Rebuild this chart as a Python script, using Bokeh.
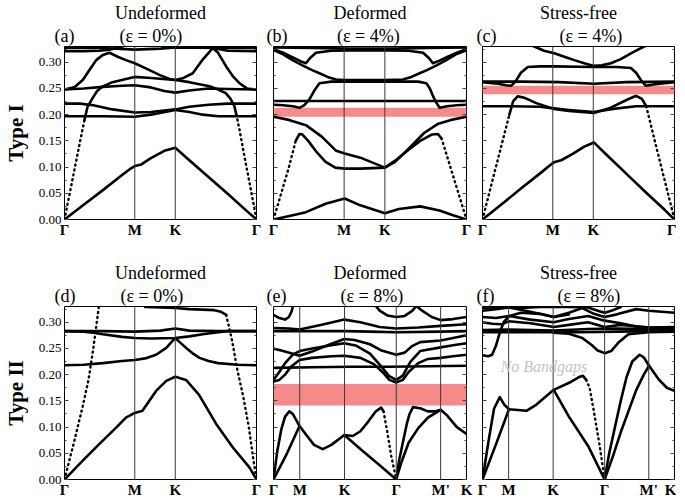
from bokeh.plotting import figure
from bokeh.models import (Range1d, LinearAxis, SingleIntervalTicker, FixedTicker,
                          CustomJSTickFormatter, NumeralTickFormatter, Span, Label, Title)
from bokeh.layouts import column, row
from bokeh.embed import file_html
from bokeh.resources import INLINE

FONT = "Liberation Serif"
Y_MAX = 0.33

# ---------------- axis data ----------------
ticks_hex = [0.0, 0.366, 0.577, 1.0]
labels_hex = ["Γ", "M", "K", "Γ"]
ticks_long = [0.0, 0.136, 0.368, 0.636, 0.866, 1.0]
labels_long = ["Γ", "M", "K", "Γ", "M'", "K"]

# ---------------- panel (a): Type I, undeformed ----------------
a1_x = [0, 0.1, 0.2, 0.3, 0.34, 0.366, 0.4, 0.45, 0.52, 0.577, 0.65, 0.75, 0.85, 0.95, 1.0]
a1_y = [0, 0.028, 0.056, 0.085, 0.096, 0.102, 0.105, 0.117, 0.131, 0.137, 0.113, 0.081, 0.049, 0.016, 0]
a2_x = [0.104, 0.12, 0.147, 0.17, 0.2, 0.25, 0.32, 0.366, 0.45, 0.577, 0.65, 0.755, 0.8, 0.84, 0.865, 0.885, 0.895]
a2_y = [0.19, 0.215, 0.232, 0.245, 0.254, 0.262, 0.268, 0.272, 0.27, 0.266, 0.262, 0.254, 0.248, 0.241, 0.23, 0.216, 0.2]
a2L_x = [0, 0.03, 0.06, 0.09, 0.104]
a2L_y = [0, 0.055, 0.11, 0.165, 0.19]
a2R_x = [0.895, 0.911, 0.94, 0.97, 1.0]
a2R_y = [0.2, 0.172, 0.115, 0.058, 0]
a3_x = [0, 0.08, 0.15, 0.25, 0.366, 0.45, 0.577, 0.65, 0.75, 0.85, 1.0]
a3_y = [0.221, 0.221, 0.218, 0.21, 0.204, 0.205, 0.21, 0.215, 0.219, 0.221, 0.221]
a4_x = [0, 0.2, 0.366, 0.45, 0.577, 0.65, 0.72, 0.8, 1.0]
a4_y = [0.197, 0.197, 0.196, 0.2, 0.209, 0.205, 0.2, 0.197, 0.197]
a5_x = [0, 0.1, 0.2, 0.3, 0.366, 0.45, 0.52, 0.577, 0.65, 0.75, 0.85, 1.0]
a5_y = [0.248, 0.25, 0.253, 0.255, 0.256, 0.252, 0.245, 0.242, 0.246, 0.25, 0.249, 0.248]
a6_x = [0, 0.05, 0.095, 0.13, 0.165, 0.2, 0.234, 0.28, 0.32, 0.366, 0.443, 0.5, 0.547, 0.577,
        0.62, 0.668, 0.72, 0.772, 0.8, 0.842, 0.88, 0.911, 0.95, 1.0]
a6_y = [0.248, 0.252, 0.266, 0.285, 0.304, 0.314, 0.318, 0.31, 0.304, 0.298, 0.285, 0.275, 0.268, 0.266,
        0.27, 0.279, 0.305, 0.327, 0.318, 0.292, 0.272, 0.26, 0.25, 0.248]
a7_x = [0, 0.2, 0.366, 0.5, 0.577, 0.8, 1.0]
a7_y = [0.327, 0.327, 0.324, 0.326, 0.328, 0.327, 0.327]
a8_x = [0, 0.1, 0.18, 0.234, 0.28, 0.31]
a8_y = [0.321, 0.321, 0.322, 0.324, 0.328, 0.331]
a9_x = [0.73, 0.772, 0.85, 1.0]
a9_y = [0.331, 0.327, 0.322, 0.321]

# ---------------- panel (b): Type I, deformed 4% ----------------
b1_x = [0, 0.1, 0.168, 0.27, 0.369, 0.45, 0.577, 0.65, 0.76, 0.86, 0.93, 1.0]
b1_y = [0, 0.008, 0.014, 0.03, 0.04, 0.027, 0.012, 0.02, 0.025, 0.017, 0.008, 0]
b2_x = [0.115, 0.134, 0.15, 0.18, 0.22, 0.27, 0.32, 0.369, 0.45, 0.577, 0.64, 0.7, 0.76, 0.82, 0.852, 0.87]
b2_y = [0.15, 0.163, 0.162, 0.15, 0.13, 0.11, 0.099, 0.097, 0.097, 0.099, 0.115, 0.133, 0.15, 0.162, 0.163, 0.155]
b2L_x = [0, 0.04, 0.08, 0.115]
b2L_y = [0, 0.05, 0.1, 0.15]
b2R_x = [0.87, 0.9, 0.95, 1.0]
b2R_y = [0.155, 0.12, 0.06, 0]
b3_x = [0, 0.08, 0.168, 0.25, 0.325, 0.369, 0.45, 0.577, 0.63, 0.7, 0.78, 0.85, 0.92, 1.0]
b3_y = [0.196, 0.19, 0.18, 0.158, 0.131, 0.126, 0.118, 0.099, 0.11, 0.135, 0.165, 0.182, 0.19, 0.196]
b4_x = [0, 0.05, 0.1, 0.134, 0.16, 0.186, 0.21, 0.238, 0.3, 0.369, 0.577, 0.75, 0.792, 0.81,
        0.827, 0.845, 0.861, 0.9, 0.95, 1.0]
b4_y = [0.219, 0.218, 0.216, 0.213, 0.218, 0.229, 0.245, 0.26, 0.263, 0.263, 0.263, 0.263, 0.26, 0.25,
        0.235, 0.222, 0.213, 0.216, 0.218, 0.219]
b5_x = [0, 0.25, 0.5, 0.75, 1.0]
b5_y = [0.226, 0.226, 0.226, 0.226, 0.226]
b6_x = [0, 0.05, 0.099, 0.15, 0.2, 0.238, 0.28, 0.324, 0.369, 0.577, 0.67, 0.715, 0.757, 0.795,
        0.845, 0.895, 0.945, 1.0]
b6_y = [0.323, 0.315, 0.304, 0.294, 0.285, 0.279, 0.272, 0.267, 0.266, 0.266, 0.267, 0.272, 0.279, 0.285,
        0.294, 0.304, 0.315, 0.323]
b7_x = [0, 0.05, 0.1, 0.14, 0.168, 0.19, 0.22, 0.3, 0.5, 0.7, 0.775, 0.805, 0.826, 0.86, 0.9, 0.95, 1.0]
b7_y = [0.325, 0.318, 0.309, 0.302, 0.298, 0.308, 0.318, 0.322, 0.323, 0.322, 0.318, 0.308, 0.298, 0.303,
        0.31, 0.318, 0.325]
b8_x = [0, 0.2, 0.4, 0.6, 0.8, 1.0]
b8_y = [0.328, 0.327, 0.326, 0.326, 0.327, 0.328]
gap_b = [0.196, 0.213]

# ---------------- panel (c): Type I, stress-free 4% ----------------
c1_x = [0, 0.1, 0.2, 0.3, 0.35, 0.372, 0.41, 0.47, 0.53, 0.58, 0.65, 0.75, 0.85, 0.95, 1.0]
c1_y = [0, 0.029, 0.059, 0.088, 0.103, 0.109, 0.113, 0.125, 0.139, 0.147, 0.122, 0.087, 0.052, 0.018, 0]
c2_x = [0.14, 0.16, 0.183, 0.22, 0.28, 0.372, 0.45, 0.58, 0.66, 0.75, 0.8, 0.83, 0.853]
c2_y = [0.2, 0.226, 0.235, 0.232, 0.222, 0.211, 0.207, 0.203, 0.212, 0.228, 0.236, 0.23, 0.216]
c2L_x = [0, 0.05, 0.1, 0.14]
c2L_y = [0, 0.072, 0.143, 0.2]
c2R_x = [0.853, 0.9, 0.95, 1.0]
c2R_y = [0.216, 0.146, 0.073, 0]
c3_x = [0, 0.15, 0.3, 0.372, 0.45, 0.58, 0.68, 0.8, 1.0]
c3_y = [0.216, 0.216, 0.215, 0.212, 0.209, 0.205, 0.211, 0.216, 0.216]
c4_x = [0, 0.2, 0.4, 0.58, 0.75, 1.0]
c4_y = [0.263, 0.263, 0.262, 0.259, 0.262, 0.263]
c5_x = [0, 0.08, 0.125, 0.149, 0.17, 0.2, 0.236, 0.3, 0.372, 0.58, 0.7, 0.773, 0.8, 0.825, 0.851,
        0.9, 0.95, 1.0]
c5_y = [0.262, 0.259, 0.256, 0.255, 0.262, 0.28, 0.291, 0.292, 0.292, 0.291, 0.291, 0.289, 0.28, 0.266,
        0.255, 0.258, 0.26, 0.262]
c6_x = [0.255, 0.27, 0.32, 0.374, 0.43, 0.478, 0.53, 0.58, 0.62, 0.669, 0.72, 0.773, 0.81, 0.842, 0.855]
c6_y = [0.332, 0.33, 0.322, 0.317, 0.31, 0.304, 0.298, 0.293, 0.294, 0.298, 0.306, 0.317, 0.324, 0.33, 0.332]
gap_c = [0.239, 0.255]

# ---------------- panel (d): Type II, undeformed ----------------
d1_x = [0, 0.095, 0.182, 0.269, 0.32, 0.366, 0.406, 0.477, 0.53, 0.577, 0.633, 0.7, 0.79, 0.877, 0.963, 1.0]
d1_y = [0, 0.036, 0.068, 0.099, 0.118, 0.127, 0.131, 0.169, 0.188, 0.196, 0.19, 0.162, 0.106, 0.061, 0.023, 0]
d2_x = [0, 0.05, 0.095, 0.125, 0.15, 0.177, 0.18]
d2_y = [0, 0.072, 0.14, 0.19, 0.25, 0.325, 0.332]
d3_x = [0.42, 0.5, 0.577, 0.65, 0.72, 0.78, 0.815, 0.842]
d3_y = [0.329, 0.328, 0.327, 0.325, 0.324, 0.323, 0.32, 0.314]
d3R_x = [0.842, 0.87, 0.9, 0.932, 0.96, 0.985, 1.0]
d3R_y = [0.314, 0.27, 0.21, 0.156, 0.1, 0.035, 0]
d4_x = [0, 0.2, 0.366, 0.5, 0.577, 0.65, 0.8, 1.0]
d4_y = [0.283, 0.283, 0.282, 0.284, 0.288, 0.284, 0.283, 0.283]
d5_x = [0, 0.1, 0.15, 0.2, 0.3, 0.366, 0.45, 0.577, 0.65, 0.72, 0.8, 0.85, 1.0]
d5_y = [0.283, 0.282, 0.28, 0.277, 0.272, 0.27, 0.269, 0.27, 0.273, 0.277, 0.281, 0.283, 0.283]
d6_x = [0, 0.1, 0.2, 0.3, 0.366, 0.42, 0.477, 0.53, 0.577, 0.6, 0.634, 0.67, 0.703, 0.75, 0.8, 0.9, 1.0]
d6_y = [0.218, 0.219, 0.222, 0.226, 0.228, 0.231, 0.238, 0.251, 0.27, 0.262, 0.251, 0.24, 0.232, 0.226,
        0.222, 0.219, 0.218]

# ---------------- panel (e): Type II, deformed 8% ----------------
e1_x = [0, 0.07, 0.135, 0.17, 0.21, 0.255, 0.3, 0.367, 0.411, 0.45, 0.49, 0.53, 0.558, 0.57]
e1_y = [0, 0.05, 0.102, 0.085, 0.066, 0.058, 0.066, 0.085, 0.083, 0.092, 0.11, 0.13, 0.137, 0.13]
e1D_x = [0.57, 0.59, 0.61, 0.636]
e1D_y = [0.13, 0.09, 0.045, 0]
e2_x = [0, 0.02, 0.04, 0.06, 0.082, 0.1, 0.12, 0.135]
e2_y = [0, 0.055, 0.095, 0.12, 0.13, 0.125, 0.112, 0.102]
e3_x = [0.367, 0.45, 0.55, 0.636]
e3_y = [0.085, 0.058, 0.027, 0]
e4_x = [0.636, 0.65, 0.67, 0.69, 0.705, 0.723, 0.76, 0.8, 0.84, 0.866, 0.9, 0.95, 1.0]
e4_y = [0, 0.035, 0.07, 0.105, 0.125, 0.138, 0.136, 0.13, 0.13, 0.133, 0.122, 0.1, 0.087]
e5_x = [0.636, 0.66, 0.7, 0.75, 0.8, 0.866]
e5_y = [0, 0.03, 0.07, 0.098, 0.118, 0.133]
e6_x = [0, 0.2, 0.4, 0.6, 0.8, 1.0]
e6_y = [0.213, 0.214, 0.215, 0.215, 0.216, 0.217]
e7_x = [0, 0.03, 0.06, 0.09, 0.135, 0.2, 0.3, 0.367, 0.45, 0.52, 0.57, 0.6, 0.636, 0.67, 0.7, 0.75,
        0.8, 0.866, 0.93, 1.0]
e7_y = [0.187, 0.19, 0.2, 0.215, 0.228, 0.232, 0.235, 0.236, 0.232, 0.22, 0.203, 0.19, 0.185, 0.19, 0.205,
        0.222, 0.23, 0.232, 0.235, 0.238]
e8_x = [0, 0.03, 0.06, 0.1, 0.135, 0.2, 0.3, 0.367, 0.43, 0.5, 0.56, 0.6, 0.636, 0.67, 0.71, 0.76,
        0.866, 0.93, 1.0]
e8_y = [0.19, 0.205, 0.222, 0.238, 0.245, 0.25, 0.256, 0.26, 0.255, 0.24, 0.215, 0.197, 0.19, 0.198, 0.225,
        0.245, 0.252, 0.256, 0.26]
e9_x = [0, 0.05, 0.1, 0.135, 0.2, 0.28, 0.367, 0.42, 0.5, 0.56, 0.636, 0.68, 0.72, 0.76, 0.866, 0.93, 1.0]
e9_y = [0.25, 0.245, 0.24, 0.236, 0.244, 0.256, 0.268, 0.266, 0.258, 0.246, 0.238, 0.242, 0.255, 0.262,
        0.265, 0.27, 0.275]
e10_x = [0, 0.135, 0.367, 0.5, 0.636, 0.866, 1.0]
e10_y = [0.283, 0.283, 0.283, 0.282, 0.281, 0.282, 0.283]
e11_x = [0, 0.08, 0.135, 0.25, 0.367, 0.45, 0.55, 0.636, 0.75, 0.866, 1.0]
e11_y = [0.289, 0.288, 0.286, 0.295, 0.305, 0.3, 0.291, 0.288, 0.29, 0.293, 0.296]
e12_x = [0, 0.03, 0.06, 0.08, 0.095, 0.1]
e12_y = [0.314, 0.308, 0.305, 0.31, 0.322, 0.331]
e13_x = [0.53, 0.55, 0.59, 0.636, 0.68, 0.72, 0.74]
e13_y = [0.331, 0.322, 0.313, 0.31, 0.312, 0.322, 0.331]
e14_x = [0.74, 0.77, 0.82, 0.866, 0.93, 1.0]
e14_y = [0.331, 0.322, 0.31, 0.304, 0.306, 0.31]
gap_e = [0.141, 0.182]

# ---------------- panel (f): Type II, stress-free 8% ----------------
f1_x = [0, 0.03, 0.06, 0.09, 0.115, 0.138, 0.229, 0.281, 0.371, 0.454, 0.5, 0.523, 0.54]
f1_y = [0, 0.07, 0.135, 0.157, 0.142, 0.134, 0.131, 0.143, 0.171, 0.185, 0.195, 0.198, 0.19]
f1D_x = [0.54, 0.558, 0.58, 0.61, 0.636]
f1D_y = [0.19, 0.175, 0.13, 0.065, 0]
f2_x = [0, 0.07, 0.138]
f2_y = [0, 0.067, 0.134]
f3_x = [0.371, 0.45, 0.55, 0.636]
f3_y = [0.171, 0.12, 0.064, 0]
f4_x = [0.636, 0.66, 0.69, 0.72, 0.75, 0.78, 0.818, 0.84, 0.866, 0.92, 0.96, 1.0]
f4_y = [0, 0.05, 0.1, 0.15, 0.195, 0.225, 0.238, 0.233, 0.218, 0.19, 0.175, 0.169]
f5_x = [0.636, 0.68, 0.72, 0.76, 0.8, 0.84, 0.866]
f5_y = [0, 0.045, 0.09, 0.13, 0.17, 0.2, 0.216]
f6_x = [0.371, 0.45, 0.52, 0.57, 0.6, 0.636, 0.67, 0.71, 0.76, 0.866, 1.0]
f6_y = [0.28, 0.278, 0.27, 0.256, 0.246, 0.241, 0.245, 0.262, 0.277, 0.281, 0.282]
f7_x = [0, 0.138, 0.3, 0.5, 0.7, 0.866, 1.0]
f7_y = [0.281, 0.281, 0.281, 0.281, 0.282, 0.283, 0.283]
f8_x = [0, 0.138, 0.371, 0.55, 0.7, 0.866, 1.0]
f8_y = [0.285, 0.286, 0.284, 0.287, 0.288, 0.287, 0.286]
f9_x = [0, 0.03, 0.05, 0.07, 0.09, 0.11, 0.14, 0.2, 0.3, 0.371, 0.45]
f9_y = [0.237, 0.235, 0.238, 0.255, 0.28, 0.3, 0.312, 0.318, 0.316, 0.31, 0.315]
f10_x = [0, 0.05, 0.1, 0.138, 0.25, 0.371, 0.45, 0.55, 0.636, 0.72, 0.866, 1.0]
f10_y = [0.3, 0.297, 0.296, 0.302, 0.298, 0.291, 0.295, 0.3, 0.291, 0.295, 0.29, 0.291]
f11_x = [0, 0.07, 0.138, 0.25, 0.371, 0.45, 0.55, 0.636, 0.72, 0.8, 0.866, 1.0]
f11_y = [0.31, 0.308, 0.312, 0.305, 0.3, 0.306, 0.312, 0.303, 0.298, 0.292, 0.29, 0.289]
f12_x = [0, 0.07, 0.138, 0.25, 0.371, 0.45, 0.52, 0.58, 0.636, 0.7, 0.8, 0.866, 1.0]
f12_y = [0.322, 0.325, 0.328, 0.32, 0.31, 0.318, 0.327, 0.316, 0.31, 0.315, 0.325, 0.322, 0.318]
f13_x = [0, 0.1, 0.2, 0.3, 0.45, 0.55, 0.6, 0.636, 0.68, 0.72]
f13_y = [0.327, 0.329, 0.327, 0.329, 0.329, 0.328, 0.322, 0.318, 0.323, 0.329]

# ---------------- styling ----------------
FH = 173
LINE_W = 2.6
GAP_COLOR = "#f58a8a"
NB = "\u00a0"


def make_panel(solid, dotted, gap, ticks, labels, title1, title2, tag, tag_dx, n_sp, title_dx,
               fw, bl, br, bt, bb, ylabel=None, note=None):
    p = figure(frame_width=fw, frame_height=FH, x_range=Range1d(0, 1), y_range=Range1d(0, Y_MAX),
               output_backend="svg", toolbar_location=None,
               min_border_left=bl, min_border_right=br, min_border_top=bt, min_border_bottom=bb)
    p.grid.visible = False
    p.outline_line_color = "black"
    p.outline_line_width = 1
    p.background_fill_color = "white"
    p.border_fill_color = "white"

    # two-line title: name on the outer line, tag + strain on the line next to the frame
    p.title.text = title1
    p.title.align = "center"
    p.title.offset = title_dx
    p.title.standoff = 0
    p.title.text_font = FONT
    p.title.text_font_size = "18px"
    p.title.text_font_style = "normal"
    p.title.text_color = "black"
    p.add_layout(Title(text=tag + NB * n_sp + title2, align="left", offset=tag_dx, standoff=2,
                       text_font=FONT, text_font_size="18px", text_font_style="normal",
                       text_color="black"), "above")

    # x axis
    xa = p.xaxis[0]
    xa.ticker = FixedTicker(ticks=ticks)
    xa.formatter = CustomJSTickFormatter(args=dict(pos=ticks, names=labels), code="""
        let best = 0; let bd = Infinity;
        for (let i = 0; i < pos.length; i++) {
            const d = Math.abs(pos[i] - tick);
            if (d < bd) { bd = d; best = i; }
        }
        return names[best];
    """)
    xa.major_tick_in = 0
    xa.major_tick_out = 0
    xa.minor_tick_in = 0
    xa.minor_tick_out = 0
    xa.axis_line_color = None
    xa.major_label_standoff = 2
    xa.major_label_text_font = FONT
    xa.major_label_text_font_size = "15px"
    xa.major_label_text_font_style = "bold"
    xa.major_label_text_color = "black"

    # y axes: left (labels only in first column) and mirrored right
    ya = p.yaxis[0]
    ra = LinearAxis()
    p.add_layout(ra, "right")
    for ax in (ya, ra):
        ax.ticker = SingleIntervalTicker(interval=0.05, num_minor_ticks=2)
        ax.major_tick_in = 4
        ax.major_tick_out = 0
        ax.minor_tick_in = 2
        ax.minor_tick_out = 0
        ax.major_tick_line_color = "#444444"
        ax.minor_tick_line_color = "#444444"
        ax.axis_line_color = None
        ax.major_label_text_font = FONT
    blank = CustomJSTickFormatter(code="return '';")
    if ylabel:
        ya.formatter = NumeralTickFormatter(format="0.00")
        ya.major_label_standoff = 3
        ya.major_label_text_font_size = "13px"
        ya.major_label_text_color = "black"
        ya.axis_label = ylabel
        ya.axis_label_text_font = FONT
        ya.axis_label_text_font_size = "21px"
        ya.axis_label_text_font_style = "bold"
        ya.axis_label_text_color = "black"
        ya.axis_label_standoff = 8
    else:
        ya.formatter = blank
        ya.major_label_standoff = 0
        ya.major_label_text_color = None
    ra.formatter = blank
    ra.major_label_standoff = 0
    ra.major_label_text_color = None

    # band gap
    if gap is not None:
        p.quad(left=[ticks[0]], right=[ticks[-1]], bottom=[gap[0]], top=[gap[1]],
               fill_color=GAP_COLOR, line_color=None)

    # symmetry lines
    for t in ticks[1:-1]:
        p.add_layout(Span(location=t, dimension="height", line_color="#3a3a3a", line_width=1))

    for xs, ys in solid:
        p.line(xs, ys, line_color="black", line_width=LINE_W, line_join="round", line_cap="round")
    for xs, ys in dotted:
        p.line(xs, ys, line_color="black", line_width=2.4, line_dash="1 4", line_cap="round")

    if note:
        p.add_layout(Label(x=note[1], y=note[2], text=note[0], text_align="center",
                           text_baseline="alphabetic", text_font=FONT, text_font_size="16px",
                           text_font_style="italic", text_color="#c4c4c4"))
    return p


TOP_T, TOP_B = 46, 40
BOT_T, BOT_B = 47, 20

pa = make_panel(
    [(a1_x, a1_y), (a2_x, a2_y), (a3_x, a3_y), (a4_x, a4_y), (a5_x, a5_y), (a6_x, a6_y),
     (a7_x, a7_y), (a8_x, a8_y), (a9_x, a9_y)],
    [(a2L_x, a2L_y), (a2R_x, a2R_y)], None, ticks_hex, labels_hex,
    "Undeformed", "(ε = 0%)", "(a)", -10, 10, -9, 192, 60, 8, TOP_T, TOP_B, ylabel="Type I")
pb = make_panel(
    [(b1_x, b1_y), (b2_x, b2_y), (b3_x, b3_y), (b4_x, b4_y), (b5_x, b5_y), (b6_x, b6_y),
     (b7_x, b7_y), (b8_x, b8_y)],
    [(b2L_x, b2L_y), (b2R_x, b2R_y)], gap_b, ticks_hex, labels_hex,
    "Deformed", "(ε = 4%)", "(b)", -7, 11, 0, 193, 9, 8, TOP_T, TOP_B)
pc = make_panel(
    [(c1_x, c1_y), (c2_x, c2_y), (c3_x, c3_y), (c4_x, c4_y), (c5_x, c5_y), (c6_x, c6_y)],
    [(c2L_x, c2L_y), (c2R_x, c2R_y)], gap_c, ticks_hex, labels_hex,
    "Stress-free", "(ε = 4%)", "(c)", -6, 14, 9, 192, 8, 2, TOP_T, TOP_B)
pd = make_panel(
    [(d1_x, d1_y), (d3_x, d3_y), (d4_x, d4_y), (d5_x, d5_y), (d6_x, d6_y)],
    [(d2_x, d2_y), (d3R_x, d3R_y)], None, ticks_hex, labels_hex,
    "Undeformed", "(ε = 0%)", "(d)", -10, 10, -9, 192, 60, 8, BOT_T, BOT_B, ylabel="Type II")
pe = make_panel(
    [(e1_x, e1_y), (e2_x, e2_y), (e3_x, e3_y), (e4_x, e4_y), (e5_x, e5_y), (e6_x, e6_y),
     (e7_x, e7_y), (e8_x, e8_y), (e9_x, e9_y), (e10_x, e10_y), (e11_x, e11_y), (e12_x, e12_y),
     (e13_x, e13_y), (e14_x, e14_y)],
    [(e1D_x, e1D_y)], gap_e, ticks_long, labels_long,
    "Deformed", "(ε = 8%)", "(e)", -7, 12, 0, 193, 9, 8, BOT_T, BOT_B)
pf = make_panel(
    [(f1_x, f1_y), (f2_x, f2_y), (f3_x, f3_y), (f4_x, f4_y), (f5_x, f5_y), (f6_x, f6_y),
     (f7_x, f7_y), (f8_x, f8_y), (f9_x, f9_y), (f10_x, f10_y), (f11_x, f11_y), (f12_x, f12_y),
     (f13_x, f13_y)],
    [(f1D_x, f1D_y)], None, ticks_long, labels_long,
    "Stress-free", "(ε = 8%)", "(f)", -6, 14, 9, 192, 8, 2, BOT_T, BOT_B,
    note=("No Bandgaps", 0.32, 0.216))

layout = column(row(pa, pb, pc, spacing=0), row(pd, pe, pf, spacing=0), spacing=0)

open("out.html", "w").write(file_html(layout, INLINE))
